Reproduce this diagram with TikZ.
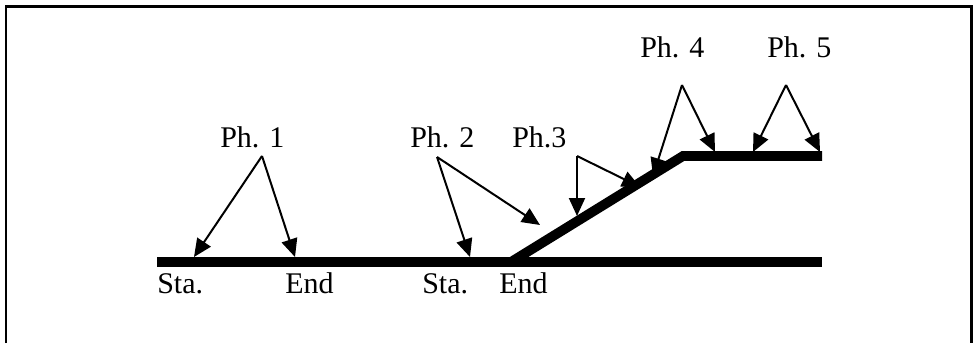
\documentclass[tikz,border=0pt]{standalone}
\usepackage{fontspec}
\setmainfont{Liberation Serif}
\usetikzlibrary{arrows.meta}
\begin{document}
\begin{tikzpicture}[x=0.75pt,y=-0.75pt,
  frame/.style={line width=1.6pt},
  track/.style={line width=7.3pt},
  ptr/.style={line width=1.5pt,-{Triangle[length=13.5pt,width=12pt]}},
  lbl/.style={anchor=base west,inner sep=0pt,font=\fontsize{22.5}{27}\selectfont}]
\useasboundingbox (0,0) rectangle (973,343);
% frame (open at the bottom)
\draw[frame] (6,343) -- (6,6.5) -- (971.5,6.5) -- (971.5,343);
% tracks
\coordinate (m0) at (157,262);
\coordinate (m1) at (822,262);
\coordinate (d0) at (511,262);
\coordinate (d1) at (683,156);
\coordinate (u1) at (822,156);
\draw[track] (m0) -- (m1);
\draw[track] (d0) -- (d1) -- (u1);
% labels
\node[lbl] (ph1) at (220,147) {Ph. 1};
\node[lbl] (ph2) at (410,147) {Ph. 2};
\node[lbl] (ph3) at (512,147) {Ph.3};
\node[lbl] (ph4) at (640,57) {Ph. 4};
\node[lbl] (ph5) at (767,57) {Ph. 5};
\node[lbl] (sta1) at (157,293) {Sta.};
\node[lbl] (end1) at (285,293) {End};
\node[lbl] (sta2) at (422,293) {Sta.};
\node[lbl] (end2) at (499,293) {End};
% apexes and tips
\coordinate (a1) at (262,156);
\coordinate (t1a) at (194,257);
\coordinate (t1b) at (295,257);
\coordinate (a2) at (437,157);
\coordinate (t2a) at (470,257);
\coordinate (t2b) at (540,225);
\coordinate (a3) at (577,156);
\coordinate (t3a) at (577,216);
\coordinate (t3b) at (640,187);
\coordinate (a4) at (682,85);
\coordinate (t4a) at (653,176);
\coordinate (t4b) at (715,152);
\coordinate (a5) at (786,85);
\coordinate (t5a) at (753,152);
\coordinate (t5b) at (820,152);
\draw[ptr] (a1) -- (t1a);
\draw[ptr] (a1) -- (t1b);
\draw[ptr] (a2) -- (t2a);
\draw[ptr] (a2) -- (t2b);
\draw[ptr] (a3) -- (t3a);
\draw[ptr] (a3) -- (t3b);
\draw[ptr] (a4) -- (t4a);
\draw[ptr] (a4) -- (t4b);
\draw[ptr] (a5) -- (t5a);
\draw[ptr] (a5) -- (t5b);
\end{tikzpicture}
\end{document}
